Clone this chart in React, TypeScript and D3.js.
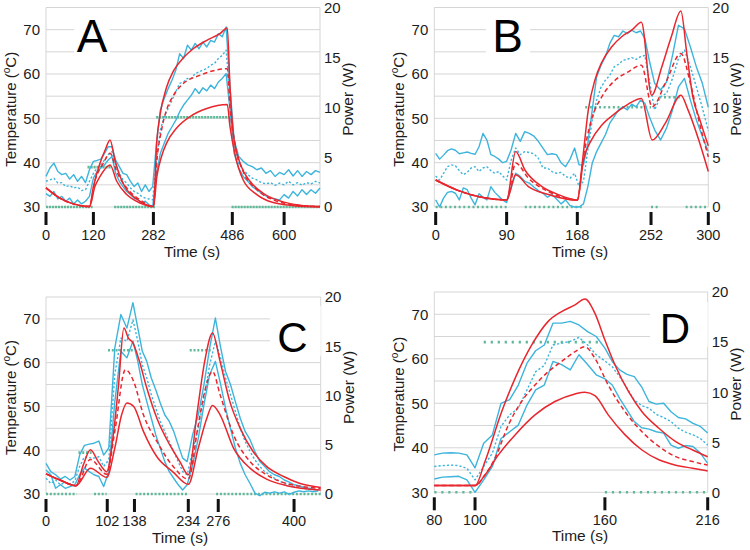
import * as d3 from "d3";

type Pt = [number, number];
type Seg = [number, number, number]; // start (s), end (s), power (W)

// ---------- panel A ----------
const aTicks = [0, 120, 282, 486, 600];
const aBlueStart = 0;
const aBlueStep = 10;
const aBlueHi = [
  36.9, 38.8, 39.9, 38.0, 37.3, 37.6, 36.3, 37.3, 35.8, 36.9, 35.5,
  38.4, 40.3, 40.5, 40.8, 42.1, 43.6, 43.6, 40.6, 39.1, 37.6,
  37.3, 35.8, 34.6, 35.4, 33.5, 35.0, 33.5, 34.6, 44.4, 51.9,
  54.5, 56.7, 58.6, 60.9, 64.6, 63.5, 66.5, 65.4, 66.9, 65.7,
  67.2, 66.1, 67.6, 67.2, 69.1, 68.4, 70.6, 57.1, 45.1, 41.4,
  40.3, 39.5, 39.1, 38.4, 38.8, 37.6, 38.2, 36.9, 37.8, 37.3,
  38.4, 37.0, 38.2, 36.9, 38.0, 37.3, 38.2, 37.8,
];
const aBlueMid = [
  35.8, 36.1, 36.5, 35.4, 35.5, 34.6, 34.8, 34.3, 34.5, 33.7, 33.9,
  35.8, 37.6, 38.8, 39.5, 40.6, 41.8, 42.5, 39.5, 37.6, 36.1,
  35.4, 34.3, 33.5, 33.1, 32.4, 32.0, 31.8, 31.6, 40.6, 47.4,
  50.4, 52.2, 54.1, 56.0, 57.9, 58.2, 59.0, 59.0, 60.1, 60.5,
  60.9, 61.2, 62.0, 62.4, 63.5, 64.2, 65.4, 54.9, 43.6, 39.9,
  38.4, 37.3, 36.5, 36.1, 35.5, 35.2, 35.5, 34.9, 35.4, 35.0,
  35.8, 35.0, 35.5, 34.9, 35.5, 35.2, 35.8, 35.4,
];
const aBlueLo = [
  33.0, 32.4, 33.5, 31.8, 32.4, 31.3, 32.0, 30.7, 31.6, 30.7, 31.3,
  32.4, 36.5, 38.0, 38.8, 39.5, 40.6, 41.4, 37.6, 35.8, 34.6,
  33.5, 32.8, 32.0, 31.6, 30.9, 31.3, 30.5, 30.1, 37.6, 42.1,
  44.4, 46.6, 48.1, 49.6, 51.5, 53.0, 54.1, 55.2, 56.7, 55.6,
  56.9, 56.2, 57.5, 56.7, 58.2, 59.0, 60.1, 51.9, 42.1, 38.8,
  36.9, 35.8, 34.6, 33.9, 33.1, 32.5, 32.0, 31.8, 31.6, 32.8,
  32.0, 33.5, 32.5, 33.9, 32.8, 33.9, 33.1, 34.3,
];
const aRedHi: Pt[] = [
  [0, 34.3], [35, 32.0], [69, 30.7], [110, 30.1], [120, 34.6], [138, 39.9],
  [152, 42.9], [165, 45.1], [178, 40.6], [192, 36.9], [210, 33.9], [237, 31.8],
  [282, 30.1], [291, 45.1], [299, 50.7], [316, 57.0], [334, 60.7], [360, 63.7],
  [385, 65.7], [420, 67.6], [454, 69.1], [473, 70.4], [480, 57.1], [488, 46.6],
  [503, 39.9], [525, 35.8], [554, 33.1], [600, 31.1], [635, 30.4], [680, 30.1],
];
const aRedMid: Pt[] = [
  [0, 34.3], [35, 32.0], [69, 30.7], [110, 30.1], [124, 35.8], [147, 39.9],
  [165, 42.1], [183, 38.0], [210, 34.3], [246, 31.6], [282, 30.1], [291, 40.6],
  [303, 47.4], [316, 51.9], [334, 55.2], [360, 57.9], [402, 59.7], [445, 60.9],
  [473, 61.2], [480, 52.6], [493, 43.6], [510, 38.0], [540, 33.9], [576, 31.6],
  [621, 30.5], [680, 30.1],
];
const aRedLo: Pt[] = [
  [0, 34.3], [35, 32.0], [69, 30.7], [110, 30.1], [124, 34.6], [138, 36.9],
  [165, 39.5], [183, 35.8], [210, 32.8], [246, 30.9], [282, 30.1], [291, 36.9],
  [303, 41.4], [316, 44.4], [342, 47.8], [377, 50.4], [420, 52.2], [473, 53.1],
  [480, 48.1], [493, 41.4], [510, 36.1], [540, 32.8], [576, 31.0], [621, 30.3],
  [680, 30.0],
];
const aPower: Seg[] = [[0, 118, 0], [105, 167, 4], [176, 286, 0], [289, 488, 9], [484, 680, 0]];

// ---------- panel B ----------
const bTicks = [0, 90, 168, 252, 300];
const bBlueStart = 0;
const bBlueStep = 5;
const bBlueHi = [
  42.1, 40.8, 41.7, 42.7, 43.1, 42.8, 42.0, 42.2, 42.4, 42.1,
  41.9, 43.6, 46.6, 45.1, 41.8, 41.4, 40.8, 40.0, 40.3, 42.9,
  46.6, 44.8, 47.0, 46.6, 46.0, 44.8, 43.3, 41.8, 42.0, 41.8,
  40.0, 39.1, 40.8, 43.3, 39.5, 39.5, 44.4, 51.9, 59.4, 62.0,
  63.9, 66.9, 68.7, 68.4, 69.7, 69.1, 69.9, 69.3, 69.7, 68.0,
  63.1, 57.9, 56.4, 58.2, 64.2, 71.0, 70.2, 66.1, 61.6, 57.9,
  52.5,
];
const bBlueMid = [
  37.0, 36.1, 37.6, 39.1, 39.5, 39.3, 38.2, 37.3, 37.8, 38.8,
  39.1, 38.0, 38.8, 39.1, 38.2, 37.6, 38.0, 37.0, 36.1, 40.6,
  43.3, 41.8, 42.5, 42.3, 42.0, 41.0, 38.8, 38.8, 38.0, 37.6,
  37.8, 36.9, 36.5, 37.6, 34.6, 35.8, 42.9, 49.6, 54.1, 57.0,
  58.6, 59.7, 61.6, 62.2, 63.1, 63.3, 63.7, 63.3, 63.9, 64.2,
  58.6, 51.9, 54.9, 55.6, 59.0, 63.5, 65.4, 61.6, 57.1, 52.4,
  47.2,
];
const bBlueLo = [
  31.6, 30.0, 32.0, 33.3, 33.5, 33.1, 31.6, 34.3, 33.9, 32.0,
  30.5, 33.0, 32.2, 31.6, 34.6, 33.3, 32.4, 31.6, 31.0, 34.3,
  37.6, 36.9, 35.8, 35.4, 34.5, 33.7, 33.1, 32.2, 32.8, 31.8,
  30.7, 31.6, 30.3, 30.0, 30.0, 30.7, 34.6, 39.9, 42.5, 44.4,
  46.3, 48.9, 50.4, 51.9, 52.6, 51.9, 53.2, 52.6, 54.1, 53.4,
  50.4, 47.4, 45.1, 47.8, 51.9, 57.1, 59.0, 54.1, 49.6, 45.9,
  42.5,
];
const bRedHi: Pt[] = [
  [0, 36.1], [29, 33.7], [58, 32.2], [90, 31.6], [100, 42.5], [110, 38.4],
  [129, 34.6], [147, 32.8], [168, 31.6], [174, 40.6], [180.5, 51.9], [188, 58.6],
  [196, 62.7], [207, 66.1], [218.5, 68.4], [230, 69.9], [241, 71.7], [252.5, 55.2],
  [261, 61.6], [269, 68.4], [277, 74.2], [282, 64.6], [287, 54.9], [293, 49.6],
  [300, 43.8],
];
const bRedMid: Pt[] = [
  [0, 36.1], [29, 33.7], [58, 32.2], [90, 31.6], [100, 39.9], [114, 36.5],
  [136, 33.5], [168, 31.6], [175, 41.4], [184, 49.6], [196, 54.9], [211, 58.6],
  [226, 60.5], [241, 62.0], [253, 52.6], [264, 57.9], [277, 64.6], [285, 57.9],
  [292, 49.6], [300, 41.3],
];
const bRedLo: Pt[] = [
  [0, 36.1], [29, 33.7], [58, 32.2], [90, 31.6], [100, 37.3], [114, 34.6],
  [136, 32.8], [168, 31.5], [175, 40.6], [184, 45.1], [196, 48.5], [211, 51.1],
  [226, 53.2], [241, 54.5], [253, 45.1], [264, 48.9], [277, 55.2], [283, 51.9],
  [292, 45.1], [300, 38.0],
];
const bPower: Seg[] = [[0, 90, 0], [110, 173, 0], [177, 252, 10], [252, 259, 0], [259, 278, 11], [281, 300, 0]];

// ---------- panel C ----------
const cTicks = [0, 102, 138, 234, 276, 400];
const cBlueStart = 0;
const cBlueStep = 8;
const cBlueHi = [
  37.0, 35.1, 34.4, 33.4, 34.0, 33.2, 34.0, 38.9, 41.1, 41.4,
  41.6, 42.1, 38.9, 40.5, 63.4, 71.0, 67.9, 73.7, 67.9, 62.6,
  60.3, 56.5, 53.8, 50.8, 48.1, 46.6, 44.3, 41.2, 38.2, 37.4,
  43.5, 48.1, 55.0, 63.4, 70.2, 63.4, 58.0, 55.0, 51.1, 47.3,
  44.3, 42.4, 39.7, 37.4, 36.3, 35.1, 34.4, 34.0, 33.2, 32.7,
  32.1, 31.9, 31.5, 31.3, 31.1, 30.9,
];
const cBlueMid = [
  33.6, 32.4, 33.2, 32.1, 32.7, 32.2, 33.0, 36.3, 38.5, 38.3,
  38.2, 38.5, 36.3, 37.8, 57.3, 65.6, 64.9, 69.8, 64.9, 59.5,
  56.5, 52.7, 49.6, 46.6, 44.3, 42.0, 39.7, 37.4, 35.1, 34.4,
  39.7, 45.0, 51.9, 59.5, 64.9, 61.1, 56.5, 52.7, 48.9, 45.0,
  42.0, 39.7, 37.8, 36.3, 35.1, 34.4, 33.6, 33.0, 32.4, 32.1,
  31.7, 31.5, 31.3, 31.1, 31.0, 30.9,
];
const cBlueLo = [
  35.5, 34.4, 31.3, 32.1, 31.3, 31.7, 32.1, 34.4, 35.9, 35.1,
  34.4, 34.0, 31.7, 35.1, 51.1, 62.6, 61.1, 64.9, 60.3, 55.0,
  51.1, 47.3, 43.5, 40.5, 37.4, 35.1, 33.6, 32.1, 30.9, 32.1,
  36.6, 42.7, 50.4, 57.3, 60.3, 55.0, 49.6, 45.0, 40.5, 37.0,
  34.4, 32.4, 30.2, 29.6, 30.4, 30.2, 30.5, 30.2, 30.5, 29.9,
  30.4, 30.7, 30.5, 30.7, 30.5, 30.7,
];
const cRedHi: Pt[] = [
  [0, 34.6], [23, 33.2], [50, 31.9], [62, 36.6], [74, 40.1], [87, 37.4],
  [101, 35.1], [110, 43.5], [117, 55.0], [124, 67.9], [130, 65.6], [136, 64.5],
  [145, 61.1], [160, 54.2], [178, 47.3], [201, 41.2], [219, 37.4], [234, 34.4],
  [246, 48.1], [257, 60.3], [268, 66.8], [279, 60.3], [295, 51.1], [312, 45.0],
  [333, 39.7], [355, 36.3], [383, 34.0], [410, 32.4], [444, 31.5],
];
const cRedMid: Pt[] = [
  [0, 34.6], [23, 33.2], [50, 31.9], [74, 37.9], [101, 34.5], [112, 44.3],
  [126, 58.4], [137, 55.7], [154, 48.1], [178, 42.0], [207, 36.3], [234, 33.4],
  [248, 45.8], [257, 53.4], [268, 58.0], [279, 52.7], [301, 43.5], [328, 37.4],
  [355, 34.4], [388, 32.4], [444, 31.3],
];
const cRedLo: Pt[] = [
  [0, 34.6], [23, 33.2], [50, 31.9], [74, 35.9], [101, 33.8], [112, 40.5],
  [121, 48.1], [128, 50.8], [137, 50.0], [154, 44.3], [178, 38.5], [207, 35.0],
  [234, 32.2], [248, 40.5], [260, 47.3], [268, 50.2], [279, 48.1], [301, 40.5],
  [328, 35.9], [355, 33.4], [388, 31.9], [444, 30.9],
];
const cPower: Seg[] = [[0, 51, 0], [54, 76, 4.2], [80, 101, 0], [103, 137, 14.6], [140, 234, 0], [236, 268, 14.6], [273, 444, 0]];

// ---------- panel D ----------
const dTicks = [80, 100, 160, 216];
const dBlueStart = 80;
const dBlueStep = 4;
const dBlueHi = [
  38.4, 38.8, 38.9, 38.8, 38.4, 35.5, 41.0, 42.9, 50.0, 50.8,
  54.1, 59.0, 61.8, 63.1, 68.0, 68.0, 68.4, 67.6, 66.1, 65.0,
  62.4, 59.4, 57.5, 56.5, 56.0, 53.7, 50.4, 49.8, 50.0, 48.1,
  46.8, 46.5, 45.5, 44.8, 43.3,
];
const dBlueMid = [
  35.8, 36.0, 36.1, 36.0, 35.4, 32.8, 35.8, 38.8, 44.8, 47.4,
  48.9, 53.0, 57.1, 58.5, 63.1, 63.5, 63.9, 64.8, 63.1, 60.9,
  59.5, 58.2, 56.0, 53.4, 50.7, 49.5, 48.9, 47.5, 46.8, 45.9,
  44.4, 43.5, 42.9, 42.1, 40.6,
];
const dBlueLo = [
  33.0, 33.4, 33.5, 33.6, 32.8, 30.0, 32.8, 35.8, 42.1, 43.6,
  45.1, 49.6, 53.0, 54.1, 59.4, 58.7, 57.5, 60.9, 58.7, 56.4,
  55.5, 54.1, 51.1, 48.5, 45.9, 44.5, 44.2, 43.6, 43.3, 40.6,
  39.9, 40.5, 40.3, 38.8, 36.5,
];
const dRedHi: Pt[] = [
  [80, 31.5], [100, 31.5], [104.6, 36.9], [112.3, 48.1], [118.5, 55.6], [126.2, 63.1],
  [133.8, 68.4], [140, 70.6], [146.2, 72.1], [150.8, 73.4], [155.4, 70.2], [160, 64.2],
  [165.5, 58.6], [172.9, 52.6], [180.2, 48.1], [189.4, 44.4], [198.6, 41.4], [207.8, 39.5],
  [216, 38.0],
];
const dRedMid: Pt[] = [
  [80, 31.5], [100, 31.5], [104.6, 33.9], [109.2, 37.6], [115.4, 45.1], [121.5, 50.4],
  [127.7, 54.1], [133.8, 57.1], [140, 59.4], [146.2, 61.6], [150.8, 62.7], [155.4, 60.1],
  [161.8, 54.1], [171, 48.1], [180.2, 43.6], [189.4, 40.3], [198.6, 38.0], [207.8, 36.9],
  [216, 36.1],
];
const dRedLo: Pt[] = [
  [80, 31.5], [100, 31.5], [104.6, 33.9], [110.8, 38.4], [118.5, 42.9], [127.7, 47.4],
  [136.9, 50.4], [146.2, 52.1], [150.8, 52.5], [155.4, 51.7], [161.8, 47.4], [171, 42.9],
  [180.2, 39.5], [189.4, 37.3], [198.6, 36.1], [207.8, 35.4], [216, 34.8],
];
const dPower: Seg[] = [[80, 100, 0], [104, 157, 15], [160, 216, 0]];

// ---------- shared axes ----------
const tempTicks = [30, 40, 50, 60, 70];
const tempGrid = [30, 35, 40, 45, 50, 55, 60, 65, 70, 75];
const powerTicks = [0, 5, 10, 15, 20];

const RED = "#e8262d";
const BLUE = "#3db4dc";
const GREEN = "#5fb898";
const GRID = "#d5d5d5";
const INK = "#1c1c1c";
const FONT = "'Liberation Sans', Arial, sans-serif";

type Layout = {
  letter: string;
  left: number; right: number; top: number; bottom: number;
  xBreaks: number[]; xFrac: number[];
  letterX: number; letterY: number; letterSize: number;
  box: [number, number, number, number];
  tickLabelDy: number; xTitleX: number; xTitleY: number;
  powerDash: string;
};

type Data = {
  ticks: number[];
  blueStart: number; blueStep: number;
  blue: number[][]; // hi, mid, lo
  red: Pt[][]; // hi, mid, lo
  power: Seg[];
};

const panels: { L: Layout; D: Data }[] = [
  {
    L: {
      letter: "A", left: 46, right: 320, top: 7.5, bottom: 207,
      xBreaks: [0, 120, 282, 486, 600, 680], xFrac: [0, 0.173, 0.392, 0.68, 0.869, 1],
      letterX: 92, letterY: 51.5, letterSize: 46, box: [74, 12, 36, 44],
      tickLabelDy: 32.5, xTitleX: 192, xTitleY: 257, powerDash: "2.2,0.8",
    },
    D: { ticks: aTicks, blueStart: aBlueStart, blueStep: aBlueStep, blue: [aBlueHi, aBlueMid, aBlueLo], red: [aRedHi, aRedMid, aRedLo], power: aPower },
  },
  {
    L: {
      letter: "B", left: 434.3, right: 708.3, top: 7.5, bottom: 207,
      xBreaks: [0, 90, 168, 252, 300], xFrac: [0.005, 0.264, 0.522, 0.791, 1],
      letterX: 507.5, letterY: 51.5, letterSize: 46, box: [486, 12, 44, 44],
      tickLabelDy: 32.5, xTitleX: 580, xTitleY: 257, powerDash: "2,2.6",
    },
    D: { ticks: bTicks, blueStart: bBlueStart, blueStep: bBlueStep, blue: [bBlueHi, bBlueMid, bBlueLo], red: [bRedHi, bRedMid, bRedLo], power: bPower },
  },
  {
    L: {
      letter: "C", left: 46, right: 320.7, top: 297, bottom: 494,
      xBreaks: [0, 102, 138, 234, 276, 400, 444], xFrac: [0, 0.223, 0.322, 0.518, 0.627, 0.903, 1],
      letterX: 292.5, letterY: 352, letterSize: 42, box: [270, 306, 50.7, 50],
      tickLabelDy: 31.5, xTitleX: 180, xTitleY: 543, powerDash: "2,1.8",
    },
    D: { ticks: cTicks, blueStart: cBlueStart, blueStep: cBlueStep, blue: [cBlueHi, cBlueMid, cBlueLo], red: [cRedHi, cRedMid, cRedLo], power: cPower },
  },
  {
    L: {
      letter: "D", left: 434.3, right: 707.7, top: 292, bottom: 492.3,
      xBreaks: [80, 100, 160, 216], xFrac: [0, 0.149, 0.624, 1],
      letterX: 675, letterY: 343, letterSize: 42, box: [650, 302, 57.7, 45],
      tickLabelDy: 32.5, xTitleX: 580, xTitleY: 541, powerDash: "2.2,4.8",
    },
    D: { ticks: dTicks, blueStart: dBlueStart, blueStep: dBlueStep, blue: [dBlueHi, dBlueMid, dBlueLo], red: [dRedHi, dRedMid, dRedLo], power: dPower },
  },
];

const Panel = ({ L, D }: { L: Layout; D: Data }) => {
  const w = L.right - L.left;
  const x = d3.scaleLinear().domain(L.xBreaks).range(L.xFrac.map((f) => L.left + f * w));
  const y = d3.scaleLinear().domain([30, 75]).range([L.bottom, L.top]);
  const yP = d3.scaleLinear().domain([0, 20]).range([L.bottom, L.top]);

  const blueLine = d3.line<Pt>().x((d) => x(d[0])).y((d) => y(d[1]));
  const redLine = d3.line<Pt>().x((d) => x(d[0])).y((d) => y(d[1])).curve(d3.curveMonotoneX);
  const toPts = (vals: number[]) => vals.map((v, i) => [D.blueStart + i * D.blueStep, v] as Pt);

  const midY = (L.top + L.bottom) / 2;

  return (
    <g fontFamily={FONT} fill={INK}>
      {/* gridlines and frame */}
      {tempGrid.map((t) => (
        <line key={t} x1={L.left} x2={L.right} y1={y(t)} y2={y(t)} stroke={GRID} strokeWidth={1} />
      ))}
      <line x1={L.left} x2={L.left} y1={L.top} y2={L.bottom} stroke={GRID} />
      <line x1={L.right} x2={L.right} y1={L.top} y2={L.bottom} stroke={GRID} />
      <rect x={L.box[0]} y={L.box[1]} width={L.box[2]} height={L.box[3]} fill="#fff" />

      {/* power */}
      {D.power.map((s, i) => (
        <line
          key={i}
          x1={x(s[0])}
          x2={x(s[1])}
          y1={yP(s[2])}
          y2={yP(s[2])}
          stroke={GREEN}
          strokeWidth={2.6}
          strokeDasharray={L.powerDash}
        />
      ))}

      {/* measured (blue) */}
      {D.blue.map((vals, i) => (
        <path
          key={i}
          d={blueLine(toPts(vals)) ?? ""}
          fill="none"
          stroke={BLUE}
          strokeWidth={1.4}
          strokeDasharray={i === 1 ? "2.2,2" : undefined}
          strokeLinejoin="round"
        />
      ))}

      {/* model (red) */}
      {D.red.map((pts, i) => (
        <path
          key={i}
          d={redLine(pts) ?? ""}
          fill="none"
          stroke={RED}
          strokeWidth={1.5}
          strokeDasharray={i === 1 ? "4.5,3" : undefined}
        />
      ))}

      {/* panel letter */}
      <text x={L.letterX} y={L.letterY} fontSize={L.letterSize} textAnchor="middle" fill="#000">
        {L.letter}
      </text>

      {/* left axis */}
      {tempTicks.map((t) => (
        <text key={t} x={L.left - 6} y={y(t)} dy="0.36em" textAnchor="end" fontSize={15}>
          {t}
        </text>
      ))}
      <text
        transform={`translate(${L.left - 30.5},${midY + 2}) rotate(-90)`}
        textAnchor="middle"
        fontSize={15}
      >
        Temperature (<tspan fontSize={10} dy={-6}>o</tspan>
        <tspan dy={6}>C)</tspan>
      </text>

      {/* right axis */}
      {powerTicks.map((p) => (
        <text key={p} x={L.right + 4} y={yP(p)} dy="0.36em" textAnchor="start" fontSize={15}>
          {p}
        </text>
      ))}
      <text
        transform={`translate(${L.right + 33},${midY - 8}) rotate(-90)`}
        textAnchor="middle"
        fontSize={15.5}
      >
        Power (W)
      </text>

      {/* time ticks */}
      {D.ticks.map((t) => (
        <g key={t}>
          <rect x={x(t) - 1.5} y={L.bottom + 5} width={3} height={13} fill="#111" />
          <text x={x(t)} y={L.bottom + L.tickLabelDy} textAnchor="middle" fontSize={14.5}>
            {t}
          </text>
        </g>
      ))}
      <text x={L.xTitleX} y={L.xTitleY} textAnchor="middle" fontSize={15.5}>
        Time (s)
      </text>
    </g>
  );
};

export default function App() {
  return (
    <svg
      width={750}
      height={550}
      style={{ position: "absolute", left: 0, top: 0, background: "#fff" }}
    >
      <rect width={750} height={550} fill="#fff" />
      {panels.map((p) => (
        <Panel key={p.L.letter} L={p.L} D={p.D} />
      ))}
    </svg>
  );
}
